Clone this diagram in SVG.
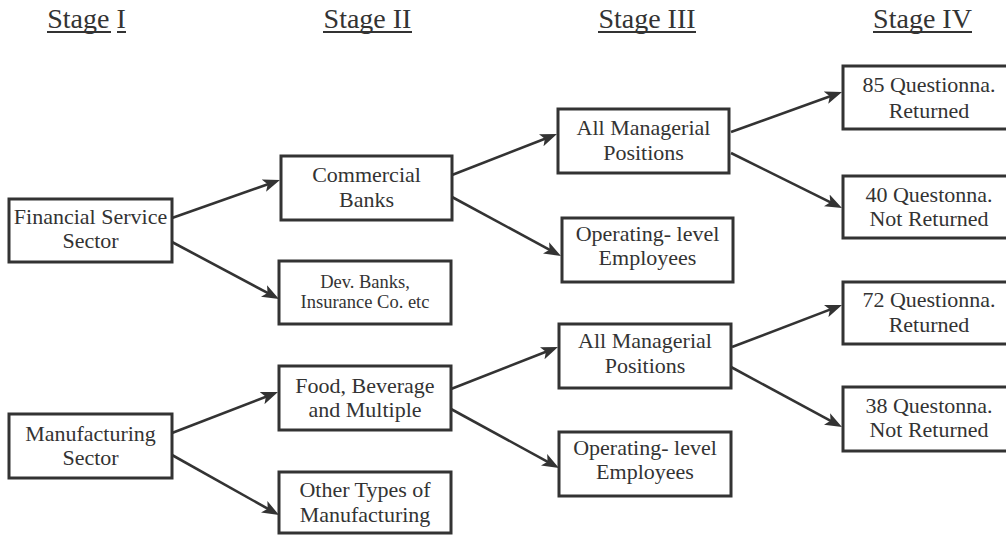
<svg xmlns="http://www.w3.org/2000/svg" width="1006" height="535" viewBox="0 0 1006 535">
  <style>
    .box { fill: #ffffff; stroke: #333333; stroke-width: 3; }
    .lbl { font-family: "Liberation Serif", "Times New Roman", serif; font-size: 22px; fill: #333333; text-anchor: middle; }
    .sml { font-size: 18.5px; }
    .hdr { font-family: "Liberation Serif", "Times New Roman", serif; font-size: 28px; fill: #333333; text-anchor: middle; }
    .uline { stroke: #333333; stroke-width: 2; }
    .edge { fill: none; stroke: #333333; stroke-width: 2.6; marker-end: url(#arrow); }
  </style>
  <defs>
    <marker id="arrow" markerUnits="userSpaceOnUse" markerWidth="18" markerHeight="14" refX="11" refY="7" orient="auto">
      <path d="M0,0.5 L17,7 L0,13.5 L4,7 Z" fill="#333333"/>
    </marker>
  </defs>

  <rect width="1006" height="535" fill="#ffffff"/>

  <!-- stage headings -->
  <g id="headings">
    <text class="hdr" x="86.5" y="28">Stage I</text>
    <line class="uline" x1="47" y1="32" x2="111" y2="32"/>
    <line class="uline" x1="117" y1="32" x2="126" y2="32"/>
    <text class="hdr" x="367.5" y="28">Stage II</text>
    <line class="uline" x1="323" y1="32" x2="412" y2="32"/>
    <text class="hdr" x="647" y="28">Stage III</text>
    <line class="uline" x1="598" y1="32" x2="696" y2="32"/>
    <text class="hdr" x="922.5" y="28">Stage IV</text>
    <line class="uline" x1="873" y1="32" x2="972" y2="32"/>
  </g>

  <!-- connectors -->
  <g id="connectors">
    <path class="edge" d="M172,218 L274.3,182.0"/>
    <path class="edge" d="M172,242 L273.7,296.2"/>
    <path class="edge" d="M452,175 L551.4,136.2"/>
    <path class="edge" d="M452,197 L555.7,253.1"/>
    <path class="edge" d="M731,132 L836.4,94.0"/>
    <path class="edge" d="M731,153 L836.6,205.3"/>
    <path class="edge" d="M172,433 L272.4,394.2"/>
    <path class="edge" d="M172,455 L273.8,512.1"/>
    <path class="edge" d="M451,389 L552.4,349.2"/>
    <path class="edge" d="M451,409 L553.7,465.1"/>
    <path class="edge" d="M732,347 L836.4,307.1"/>
    <path class="edge" d="M731,367 L836.7,424.2"/>
  </g>

  <!-- stage I -->
  <g id="financial-sector">
    <rect class="box" x="9" y="199" width="163" height="63"/>
    <text class="lbl" x="90.5" y="224">Financial Service</text>
    <text class="lbl" x="90.5" y="248">Sector</text>
  </g>
  <g id="manufacturing-sector">
    <rect class="box" x="9" y="414" width="163" height="64"/>
    <text class="lbl" x="90.5" y="441">Manufacturing</text>
    <text class="lbl" x="90.5" y="465">Sector</text>
  </g>

  <!-- stage II -->
  <g id="commercial-banks">
    <rect class="box" x="281" y="156" width="171" height="64"/>
    <text class="lbl" x="366.5" y="182">Commercial</text>
    <text class="lbl" x="366.5" y="207">Banks</text>
  </g>
  <g id="dev-banks">
    <rect class="box" x="279" y="261" width="172" height="63"/>
    <text class="lbl sml" x="365" y="288">Dev. Banks,</text>
    <text class="lbl sml" x="365" y="308">Insurance Co. etc</text>
  </g>
  <g id="food-beverage">
    <rect class="box" x="279" y="366" width="172" height="64"/>
    <text class="lbl" x="365" y="393">Food, Beverage</text>
    <text class="lbl" x="365" y="417">and Multiple</text>
  </g>
  <g id="other-manufacturing">
    <rect class="box" x="279" y="472" width="172" height="61"/>
    <text class="lbl" x="365" y="497">Other Types of</text>
    <text class="lbl" x="365" y="522">Manufacturing</text>
  </g>

  <!-- stage III -->
  <g id="managerial-1">
    <rect class="box" x="558" y="109" width="171" height="64"/>
    <text class="lbl" x="643.5" y="135">All Managerial</text>
    <text class="lbl" x="643.5" y="160">Positions</text>
  </g>
  <g id="operating-1">
    <rect class="box" x="562" y="218" width="171" height="64"/>
    <text class="lbl" x="647.5" y="241">Operating- level</text>
    <text class="lbl" x="647.5" y="265">Employees</text>
  </g>
  <g id="managerial-2">
    <rect class="box" x="559" y="324" width="172" height="64"/>
    <text class="lbl" x="645" y="348">All Managerial</text>
    <text class="lbl" x="645" y="373">Positions</text>
  </g>
  <g id="operating-2">
    <rect class="box" x="559" y="432" width="172" height="64"/>
    <text class="lbl" x="645" y="455">Operating- level</text>
    <text class="lbl" x="645" y="479">Employees</text>
  </g>

  <!-- stage IV -->
  <g id="returned-85">
    <rect class="box" x="843" y="66" width="180" height="63"/>
    <text class="lbl" x="929" y="92">85 Questionna.</text>
    <text class="lbl" x="929" y="118">Returned</text>
  </g>
  <g id="not-returned-40">
    <rect class="box" x="843" y="176" width="180" height="62"/>
    <text class="lbl" x="929" y="202">40 Questonna.</text>
    <text class="lbl" x="929" y="226">Not Returned</text>
  </g>
  <g id="returned-72">
    <rect class="box" x="843" y="282" width="180" height="62"/>
    <text class="lbl" x="929" y="307">72 Questionna.</text>
    <text class="lbl" x="929" y="332">Returned</text>
  </g>
  <g id="not-returned-38">
    <rect class="box" x="843" y="387" width="180" height="64"/>
    <text class="lbl" x="929" y="413">38 Questonna.</text>
    <text class="lbl" x="929" y="437">Not Returned</text>
  </g>
</svg>
